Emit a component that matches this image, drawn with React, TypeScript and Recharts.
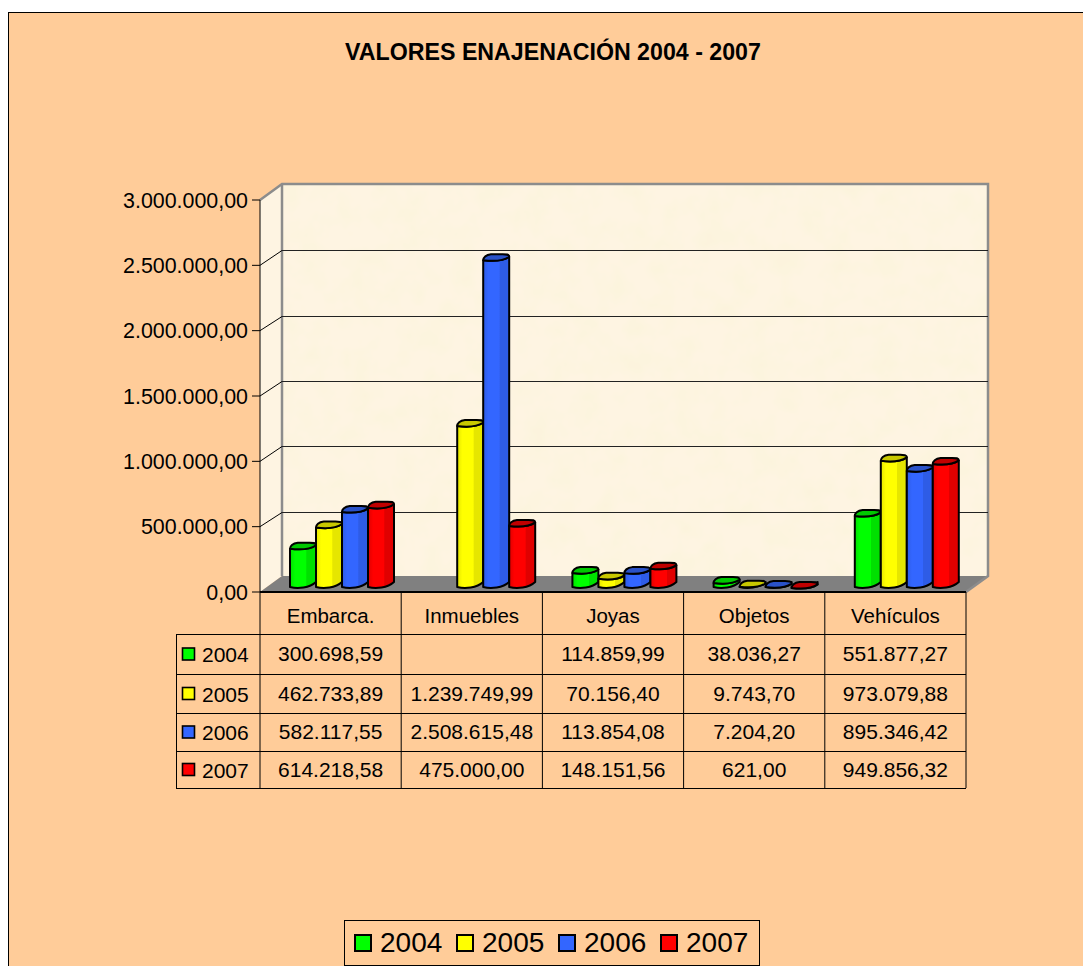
import React from 'react';
import { BarChart, Bar, XAxis, YAxis, CartesianGrid, Legend } from 'recharts';

const categories = ['Embarca.', 'Inmuebles', 'Joyas', 'Objetos', 'Vehículos'];
const years = ['2004', '2005', '2006', '2007'];
const v2004 = [300698.59, null, 114859.99, 38036.27, 551877.27];
const v2005 = [462733.89, 1239749.99, 70156.4, 9743.7, 973079.88];
const v2006 = [582117.55, 2508615.48, 113854.08, 7204.2, 895346.42];
const v2007 = [614218.58, 475000.0, 148151.56, 621.0, 949856.32];
const yTicks = [0, 500000, 1000000, 1500000, 2000000, 2500000, 3000000];

const seriesValues = [v2004, v2005, v2006, v2007];
const colors = ['#00ff00', '#ffff00', '#3366ff', '#ff0000'];
const shades = ['#00e000', '#e6e600', '#2e5ce6', '#e00000'];
const caps = ['#00c800', '#c8c800', '#2a52c8', '#c00000'];

const data = categories.map((name, i) => {
  const row: Record<string, any> = { name };
  years.forEach((y, j) => {
    row[y] = seriesValues[j][i];
  });
  return row;
});

const FONT = '"Liberation Sans", Arial, sans-serif';

// layout of the fake 3D box
const LEFT = 260;
const TOP = 200;
const PW = 706;
const PH = 392;
const DX = 22;
const DY = 16;
const BOTTOM = TOP + PH;
const RIGHT = LEFT + PW;
const rowLines = [634, 674, 713, 751, 788];

const fmt = (v: number) =>
  v.toFixed(2).replace('.', ',').replace(/\B(?=(\d{3})+(?!\d))/g, '.');

const Cylinder = (props: any) => {
  const { x, y, width: w, height: h, index, gid, cap } = props;
  if (x == null || h == null) return null;
  const X = x + 11;
  const Y = y - 4;
  const sk = 3.5; // rise of the cap's right side
  const base = 5; // rise of the foot's right side
  const foot = y + h - 5;
  const front = `C ${X + w * 0.3} ${Y + 1} ${X + w * 0.75} ${Y + 1} ${X + w} ${Y - sk}`;
  const body = `M ${X} ${Y} L ${X} ${foot} C ${X + w * 0.3} ${foot + 2} ${X + w * 0.75} ${foot + 1} ${X + w} ${foot - base} L ${X + w} ${Y - sk} C ${X + w * 0.75} ${Y + 1} ${X + w * 0.3} ${Y + 1} ${X} ${Y} Z`;
  const top = `M ${X} ${Y} ${front} C ${X + w} ${Y - 6} ${X + w * 0.9} ${Y - 6} ${X + w * 0.75} ${Y - 6} L ${X + w * 0.3} ${Y - 6} C ${X + w * 0.1} ${Y - 5.5} ${X} ${Y - 2.5} ${X} ${Y} Z`;
  return (
    <g key={index}>
      <path d={body} fill={`url(#${gid})`} stroke="#000" strokeWidth={2} strokeLinejoin="round" />
      <path d={top} fill={cap} stroke="#000" strokeWidth={2} strokeLinejoin="round" />
    </g>
  );
};

const GridLine = (props: any) => {
  const { x1, x2, y1, index } = props;
  // top and floor are edges of the box, drawn with the walls
  if (Math.abs(y1 - TOP) < 1 || Math.abs(y1 - BOTTOM) < 1) return <g key={index} />;
  const back = Math.round(y1 - 15) + 0.5;
  return (
    <g key={index}>
      <line x1={x1} y1={y1} x2={x1 + DX} y2={back} stroke="#000" strokeWidth={1} />
      <line x1={x1 + DX} y1={back} x2={x2 + DX} y2={back} stroke="#222" strokeWidth={1} />
    </g>
  );
};

const Backdrop = () => (
  <svg width={1083} height={966} style={{ position: 'absolute', left: 0, top: 0 }} fontFamily={FONT}>
    <defs>
      <filter id="paper" x="0" y="0" width="100%" height="100%">
        <feTurbulence type="fractalNoise" baseFrequency="0.04" numOctaves={3} seed={4} />
        <feColorMatrix values="0 0 0 0 0.97  0 0 0 0 0.90  0 0 0 0 0.72  2.2 0 0 0 -0.85" />
      </filter>
    </defs>
    <rect x={8.5} y={12.5} width={1100} height={1000} fill="#ffcc99" stroke="#000" strokeWidth={1} />
    <text x={553} y={60} textAnchor="middle" fontSize={23.2} fontWeight="bold">
      VALORES ENAJENACIÓN 2004 - 2007
    </text>
    {/* walls */}
    <polygon points={`${LEFT},${TOP} ${LEFT + DX},${TOP - DY} ${LEFT + DX},${BOTTOM - DY} ${LEFT},${BOTTOM}`} fill="#fef4e2" />
    <rect x={LEFT + DX} y={TOP - DY} width={PW} height={PH} fill="#fef4e2" />
    <rect x={LEFT + DX} y={TOP - DY} width={PW} height={PH} filter="url(#paper)" />
    <polygon points={`${LEFT},${BOTTOM} ${LEFT + DX},${BOTTOM - DY} ${RIGHT + DX},${BOTTOM - DY} ${RIGHT},${BOTTOM}`} fill="#808080" />
    <polyline
      points={`${LEFT},${TOP} ${LEFT + DX},${TOP - DY} ${RIGHT + DX},${TOP - DY} ${RIGHT + DX},${BOTTOM - DY} ${RIGHT},${BOTTOM}`}
      fill="none"
      stroke="#8c8c8c"
      strokeWidth={2.5}
    />
    <line x1={LEFT + DX} y1={TOP - DY} x2={LEFT + DX} y2={BOTTOM - DY} stroke="#8c8c8c" strokeWidth={2.5} />

    {/* data table */}
    <g stroke="#000" strokeWidth={1}>
      {categories.map((_, i) => (
        <line key={i} x1={LEFT + (i * PW) / 5} x2={LEFT + (i * PW) / 5} y1={BOTTOM} y2={788} />
      ))}
      <line x1={RIGHT} x2={RIGHT} y1={BOTTOM} y2={788} />
      <line x1={176.5} x2={176.5} y1={634} y2={788} />
      {rowLines.map((y) => (
        <line key={y} x1={176} x2={RIGHT} y1={y + 0.5} y2={y + 0.5} />
      ))}
    </g>
    {years.map((y, j) => {
      const mid = (rowLines[j] + rowLines[j + 1]) / 2;
      return (
        <g key={y}>
          <rect x={182.5} y={mid - 6} width={12} height={12} fill={colors[j]} stroke="#000" strokeWidth={1.6} />
          <text x={202} y={mid + 8} fontSize={21}>
            {y}
          </text>
          {seriesValues[j].map((v, i) =>
            v == null ? null : (
              <text key={i} x={LEFT + ((i + 0.5) * PW) / 5} y={mid + 7} fontSize={21} textAnchor="middle">
                {fmt(v)}
              </text>
            )
          )}
        </g>
      );
    })}
  </svg>
);

const LegendBox = () => (
  <div
    style={{
      width: 416,
      height: 46,
      boxSizing: 'border-box',
      border: '1px solid #000',
      background: '#ffcc99',
      fontFamily: FONT,
      fontSize: 28,
      position: 'relative',
    }}
  >
    {years.map((y, j) => (
      <div key={y} style={{ position: 'absolute', left: 8.5 + j * 102, top: 0, height: 44, display: 'flex', alignItems: 'center' }}>
        <span style={{ width: 14, height: 14, border: '2px solid #000', background: colors[j], display: 'inline-block' }} />
        <span style={{ marginLeft: 8.5, color: '#000' }}>{y}</span>
      </div>
    ))}
  </div>
);

export default function App() {
  return (
    <div style={{ position: 'absolute', left: 0, top: 0, width: 1083, height: 966, overflow: 'hidden', background: '#fff' }}>
      <Backdrop />
      <div style={{ position: 'absolute', left: 0, top: 0 }}>
        <BarChart
          width={1083}
          height={966}
          data={data}
          barSize={26}
          barGap={0}
          margin={{ top: TOP, left: 8, right: 1083 - RIGHT, bottom: 966 - BOTTOM - 42 }}
          style={{ background: 'transparent' }}
        >
          <defs>
            {colors.map((c, j) => (
              <linearGradient key={c} id={`cyl${j}`} x1="0" y1="0" x2="1" y2="0">
                <stop offset="0" stopColor={shades[j]} />
                <stop offset="0.2" stopColor={c} />
                <stop offset="0.62" stopColor={c} />
                <stop offset="0.64" stopColor={shades[j]} />
                <stop offset="1" stopColor={shades[j]} />
              </linearGradient>
            ))}
          </defs>
          <CartesianGrid vertical={false} horizontal={GridLine as any} />
          <XAxis
            dataKey="name"
            interval={0}
            tickLine={false}
            axisLine={{ stroke: '#000', strokeWidth: 2 }}
            height={42}
            tickMargin={10}
            tick={{ fill: '#000', fontSize: 20.5, fontFamily: FONT }}
          />
          <YAxis
            width={252}
            domain={[0, 3000000]}
            ticks={yTicks}
            interval={0}
            tickSize={8}
            tickMargin={4}
            tickFormatter={(v: number) => fmt(v)}
            axisLine={{ stroke: '#000' }}
            tickLine={{ stroke: '#000' }}
            tick={{ fill: '#000', fontSize: 21.4, fontFamily: FONT }}
          />
          <Legend
            layout="horizontal"
            verticalAlign="middle"
            align="center"
            content={<LegendBox />}
            wrapperStyle={{ position: 'absolute', left: 344, top: 920, width: 416, height: 46 }}
          />
          {years.map((y, j) => (
            <Bar
              key={y}
              dataKey={y}
              fill={colors[j]}
              isAnimationActive={false}
              shape={(p: any) => <Cylinder {...p} gid={`cyl${j}`} cap={caps[j]} />}
            />
          ))}
        </BarChart>
      </div>
    </div>
  );
}
